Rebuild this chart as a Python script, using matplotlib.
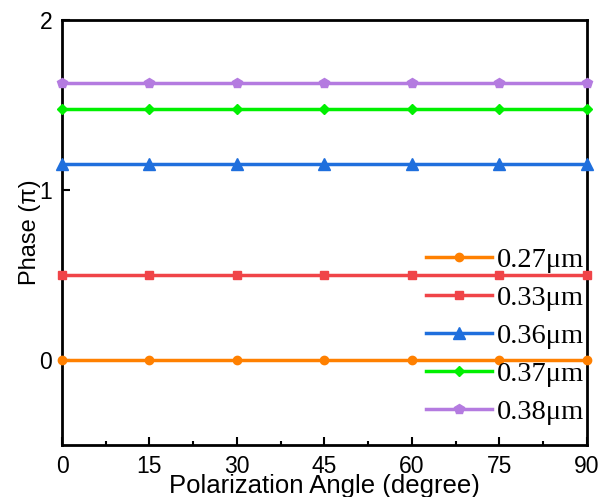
import matplotlib
matplotlib.use("Agg")
import matplotlib.pyplot as plt
from matplotlib.ticker import MultipleLocator

angles = [0, 15, 30, 45, 60, 75, 90]
labels = ["0.27\u03bcm", "0.33\u03bcm", "0.36\u03bcm", "0.37\u03bcm", "0.38\u03bcm"]
phase_027 = [0.0] * 7
phase_033 = [0.50] * 7
phase_036 = [1.155] * 7
phase_037 = [1.473] * 7
phase_038 = [1.627] * 7
series = [phase_027, phase_033, phase_036, phase_037, phase_038]
colors = ["#FF8000", "#F04448", "#1F6FDD", "#00F000", "#B47BE0"]
markers = ["o", "s", "^", "D", "p"]
msizes = [6, 6, 8, 5.5, 7]

fig = plt.figure(figsize=(6.02, 4.97), dpi=100)
ax = fig.add_axes([0.103, 0.105, 0.872, 0.855])

for vals, lab, c, m, ms in zip(series, labels, colors, markers, msizes):
    ax.plot(angles, vals, color=c, marker=m, markersize=ms, linewidth=2.5,
            label=lab, clip_on=False, zorder=3)

ax.set_xlim(0, 90)
ax.set_ylim(-0.5, 2)
ax.xaxis.set_major_locator(MultipleLocator(15))
ax.xaxis.set_minor_locator(MultipleLocator(7.5))
ax.yaxis.set_major_locator(MultipleLocator(1))
ax.tick_params(axis="both", which="both", direction="in")
ax.tick_params(axis="both", which="major", length=6, width=1.5,
               labelsize=16.5, pad=7)
ax.tick_params(axis="x", which="minor", length=3, width=1.5)
for s in ax.spines.values():
    s.set_linewidth(2)
for t in ax.get_xticklabels() + ax.get_yticklabels():
    t.set_fontfamily("Liberation Sans")

ax.set_xlabel("Polarization Angle (degree)", fontsize=18.5,
              fontfamily="Liberation Sans", labelpad=-2.5)
ax.set_ylabel("Phase (\u03c0)", fontsize=17, fontfamily="Liberation Sans",
              labelpad=-1)

leg = ax.legend(loc="lower right", frameon=False,
                prop={"family": "Liberation Serif", "size": 20.5},
                handlelength=2.3, labelspacing=0.42, handletextpad=0.18,
                borderpad=0.1, borderaxespad=0.0, bbox_to_anchor=(1.0, 0.04))

fig.savefig("out.png", dpi=100)
